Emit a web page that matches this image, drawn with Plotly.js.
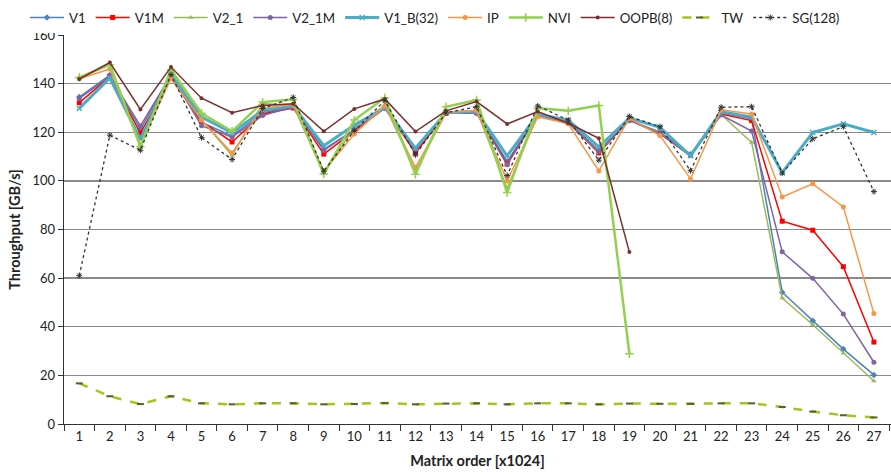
<!DOCTYPE html>
<html>
<head>
<meta charset="utf-8">
<script src="https://cdn.plot.ly/plotly-3.0.1.min.js"></script>
<style>html,body{margin:0;padding:0;background:#fff;}#chart{width:891px;height:475px;}</style>
</head>
<body>
<div id="chart"></div>
<script>
const categories = ["1","2","3","4","5","6","7","8","9","10","11","12","13","14","15","16","17","18","19","20","21","22","23","24","25","26","27"];

const V1      = [134.5,143.5,121.2,143.7,124,118.5,128,130.5,113,121,130,112.5,128,128,108,127,124.5,112.5,125,120,111,128,125.5,54.2,42.5,30.8,20.2];
const V1M     = [132.1,143,119.6,142.3,124.4,116,127.5,130,111,120.5,130,111.5,127.8,128,107,127,124,111.5,125,119.5,110.5,127.5,124.8,83.4,79.7,64.7,33.7];
const V2_1    = [142.7,147.8,114.1,145.7,125,110.5,131.8,131,103,122,131,104,128,129,97,127,124,112,125,119.5,110,127.3,115.8,51.8,40.8,29.1,17.7];
const V2_1M   = [133.9,143,122.6,143.5,122.7,118,126.9,130.5,112.5,121,130,113,127.8,128,106.6,127,124,112,125,119.3,110.5,127.1,120.5,70.8,59.9,45.2,25.4];
const V1_B32  = [129.8,142.3,117.1,143.7,126.2,119.8,129,130.8,114.5,123,130,113.4,128,128.5,110.3,127.3,125,114,125.8,122,110.3,128.5,126.2,103.4,119.9,123.5,119.9];
const IP      = [142,146,115,142,125,111.5,130,131.5,104,119.3,131,105.6,128,129,100,126.4,123.5,104.1,125.8,118.6,100.8,129.2,127.5,93.4,98.8,89.3,45.5];
const NVI     = [142.5,147.8,114,145.7,127.8,120.4,132.4,133.5,102.8,125,134.2,102.7,130.5,133.3,95.2,129.9,128.8,131,28.9];
const OOPB8   = [141.9,148.7,129.4,146.8,134,128,131,131.7,120.4,129.6,133.7,120.3,128.8,132.6,123.4,128.5,123.7,117.5,70.7];
const TW      = [16.7,11.4,8.2,11.4,8.5,8.1,8.5,8.5,8.1,8.2,8.6,8.1,8.4,8.5,8.1,8.5,8.5,8.1,8.4,8.3,8.3,8.5,8.5,7.0,5.1,3.6,2.7];
const SG128   = [61,118.8,112.6,143.7,117.8,108.8,129.8,134.3,104,120.7,133,110.7,128,130.5,102.2,130.8,125,108.5,126.5,122.3,104.2,130.3,130.5,103.2,117.3,122.3,95.6];

function tr(name, y, color, width, sym, msize, dash, mcolor) {
  return {
    type: 'scatter', mode: 'lines+markers', name: name,
    x: categories.slice(0, y.length), y: y,
    line: {color: color, width: width, dash: dash || 'solid'},
    marker: {color: mcolor || color, size: msize, symbol: sym, line: {width: 0}}
  };
}

const data = [
  tr('V1', V1, '#4F81BD', 1.5, 'diamond', 5),
  tr('V1M', V1M, '#FF0000', 1.5, 'square', 5),
  tr('V2_1', V2_1, '#9BBB59', 1.5, 'triangle-up', 5),
  tr('V2_1M', V2_1M, '#8064A2', 1.5, 'circle', 5),
  tr('V1_B(32)', V1_B32, '#4BACC6', 3, 'x-thin-open', 5),
  tr('IP', IP, '#F79646', 1.5, 'circle', 5),
  tr('NVI', NVI, '#92D050', 2.5, 'cross-thin-open', 6),
  tr('OOPB(8)', OOPB8, '#7A2E2E', 1.5, 'circle', 4),
  tr('TW', TW, '#A8C21E', 2.5, 'line-ew-open', 5, 'dash', '#4F6228'),
  tr('SG(128)', SG128, '#333333', 1.3, 'asterisk-open', 5, 'dot')
];
data[8].marker.line = {color: '#4F6228', width: 2};
data[4].marker.line = {color: '#4BACC6', width: 1.5};
data[6].marker.line = {color: '#92D050', width: 1.5};
data[9].marker.line = {color: '#333333', width: 1};

const layout = {
  width: 891, height: 475,
  margin: {l: 64, r: 0, t: 35, b: 51},
  paper_bgcolor: '#fff', plot_bgcolor: '#fff',
  font: {family: 'Lato, "Open Sans", sans-serif', size: 13, color: '#222'},
  showlegend: true,
  legend: {
    orientation: 'h', xref: 'container', yref: 'container',
    x: 0.028, y: 0.995, xanchor: 'left', yanchor: 'top',
    font: {size: 13.3, color: '#222'}, traceorder: 'normal',
    itemwidth: 34
  },
  xaxis: {
    type: 'category', range: [-0.5, 26.56],
    tickson: 'boundaries', ticks: 'outside', ticklen: 6, tickcolor: '#333',
    showline: true, linecolor: '#333', linewidth: 1.3,
    showgrid: false, zeroline: false,
    tickfont: {size: 13, color: '#222'},
    title: {text: 'Matrix order [x1024]', font: {size: 14.5, color: '#222', family: 'Lato, "Open Sans", sans-serif', weight: 'bold'}, standoff: 13}
  },
  yaxis: {
    range: [0, 160], dtick: 20, tick0: 0,
    ticks: 'outside', ticklen: 5, tickcolor: '#333',
    showline: true, linecolor: '#333', linewidth: 1.3,
    showgrid: true, gridcolor: '#8a8a8a', gridwidth: 1.3, zeroline: false,
    tickfont: {size: 13, color: '#222'},
    title: {text: 'Throughput [GB/s]', font: {size: 14.5, color: '#222', family: 'Lato, "Open Sans", sans-serif', weight: 'bold'}, standoff: 8}
  }
};

Plotly.newPlot('chart', data, layout, {displayModeBar: false, staticPlot: true});
</script>
</body>
</html>
